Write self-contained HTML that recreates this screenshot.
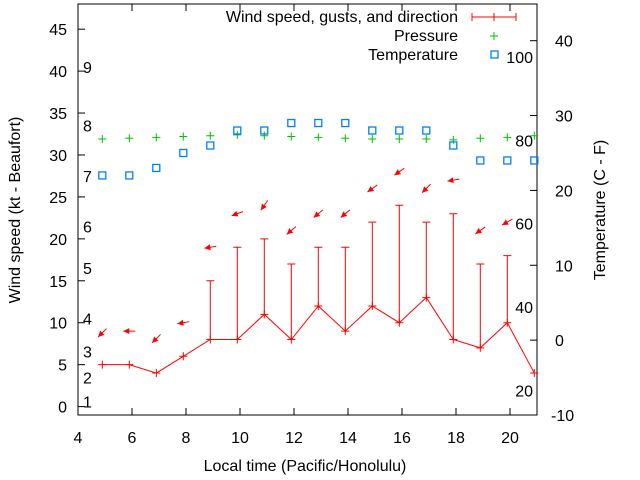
<!DOCTYPE html>
<html><head><meta charset="utf-8"><style>
html,body{margin:0;padding:0;background:#fff;}
svg{display:block;font-family:"Liberation Sans",sans-serif;}
</style></head><body>
<svg id="chart" width="640" height="480" viewBox="0 0 640 480">
<g id="axes"></g>
<g id="marks"></g>
<g id="legend">
  <text x="458" y="22" text-anchor="end" font-size="16">Wind speed, gusts, and direction</text>
  <line x1="472" y1="17" x2="516" y2="17" stroke="#f00" stroke-width="1"/>
  <line x1="472" y1="13" x2="472" y2="21" stroke="#f00"/>
  <line x1="516" y1="13" x2="516" y2="21" stroke="#f00"/>
  <line x1="494" y1="13" x2="494" y2="21" stroke="#f00"/>
  <text x="458" y="41" text-anchor="end" font-size="16">Pressure</text>
  <path d="M490 36h8M494 32v8" stroke="#00c000"/>
  <text x="458" y="60" text-anchor="end" font-size="16">Temperature</text>
  <rect x="491" y="51" width="7" height="7" fill="none" stroke="#0080ff" stroke-width="1.3"/>
</g>
<text transform="translate(20,210) rotate(-90)" text-anchor="middle" font-size="16">Wind speed (kt - Beaufort)</text>
<text transform="translate(605,210) rotate(-90)" text-anchor="middle" font-size="16">Temperature (C - F)</text>
<text x="305" y="471" text-anchor="middle" font-size="16">Local time (Pacific/Honolulu)</text>
</svg>
<script>
const hours = [4.9,5.9,6.9,7.9,8.9,9.9,10.9,11.9,12.9,13.9,14.9,15.9,16.9,17.9,18.9,19.9,20.9];
const windSpeed = [5,5,4,6,8,8,11,8,12,9,12,10,13,8,7,10,4];
const gusts = [null,null,null,null,15,19,20,17,19,19,22,24,22,23,17,18,null];
const arrowLevel = [8.8,9,8.1,10,19,23,24,21,23,23,26,28,26,27,21,22,null];
const windDir = [225,180,225,190,190,200,235,220,220,220,215,215,225,190,215,210,null];
const pressure = [31.9,32.0,32.1,32.2,32.3,32.4,32.3,32.2,32.1,32.0,31.9,31.9,31.9,31.8,32.0,32.1,32.3];
const tempC = [22,22,23,25,26,28,28,29,29,29,28,28,28,26,24,24,24];
const xTicks = [4,6,8,10,12,14,16,18,20];
const yTicks = [0,5,10,15,20,25,30,35,40,45];
const y2Ticks = [-10,0,10,20,30,40];
const beaufortLabels = ["1","2","3","4","5","6","7","8","9"];
const beaufortLevels = [0.6,3.5,6.6,10.5,16.5,21.5,27.5,33.5,40.5];
const fahrLabels = ["20","40","60","80","100"];
const fahrLevels = [-6.7,4.4,15.6,26.7,37.8];

const L=78,R=537,T=4,B=415;
const X=v=>L+(v-4)/(21-4)*(R-L);
const Y=v=>B-(v+1)/(48+1)*(B-T);
const Y2=v=>B-(v+10)/(44.9+10)*(B-T);
const NS="http://www.w3.org/2000/svg";
function mk(p,tag,at){const e=document.createElementNS(NS,tag);for(const k in at)e.setAttribute(k,at[k]);p.appendChild(e);return e;}
const ax=document.getElementById('axes'), mk_=document.getElementById('marks');

let e=mk(ax,'rect',{x:L,y:T,width:R-L,height:B-T,fill:'none',stroke:'#000','stroke-width':1});


xTicks.forEach(t=>{
  const x=X(t);
  let l=mk(ax,'path',{d:`M${x} ${B}v-7M${x} ${T}v7`,stroke:'#000'});
  
  
  let tx=mk(ax,'text',{x:x,y:443,'text-anchor':'middle','font-size':16});
  tx.textContent=t;
  
  
});
yTicks.forEach(t=>{
  const y=Y(t);
  let l=mk(ax,'path',{d:`M${L} ${y}h7`,stroke:'#000'});
  
  
  let tx=mk(ax,'text',{x:L-11,y:y+6,'text-anchor':'end','font-size':16});
  tx.textContent=t;
  
  
});
y2Ticks.forEach(t=>{
  const y=Y2(t);
  let l=mk(ax,'path',{d:`M${R} ${y}h-7`,stroke:'#000'});
  
  
  let tx=mk(ax,'text',{x:t<0?551:555,y:y+6,'font-size':16});
  tx.textContent=t;
  
  
});
beaufortLabels.forEach((s,i)=>{
  let tx=mk(ax,'text',{x:83,y:Y(beaufortLevels[i])+6,'font-size':16});
  tx.textContent=s;
  
  
});
fahrLabels.forEach((s,i)=>{
  let tx=mk(ax,'text',{x:533,y:Y2(fahrLevels[i])+6,'text-anchor':'end','font-size':16});
  tx.textContent=s;
  
  
});

let pl=mk(mk_,'polyline',{points:hours.map((h,i)=>`${X(h)},${Y(windSpeed[i])}`).join(' '),fill:'none',stroke:'#f00'});


hours.forEach((h,i)=>{
  const x=X(h),y=Y(windSpeed[i]);
  let p=mk(mk_,'path',{d:`M${x-4} ${y}h8M${x} ${y-4}v8`,stroke:'#f00'});
  
  
  if(gusts[i]!=null){
    const g=Y(gusts[i]);
    let b=mk(mk_,'path',{d:`M${x} ${y}V${g}M${x-4} ${g}h8`,stroke:'#f00'});
    
    
  }
  if(arrowLevel[i]!=null){
    const a=windDir[i]*Math.PI/180, cx=x, cy=Y(arrowLevel[i]);
    const dx=Math.cos(a), dy=-Math.sin(a);
    const hx=cx+dx*6, hy=cy+dy*6, tx=cx-dx*6, ty=cy-dy*6;
    const px=-dy, py=dx;
    let ar=mk(mk_,'path',{d:`M${tx} ${ty}L${hx} ${hy}`,stroke:'#f00'});
    
    
    let hd=mk(mk_,'path',{d:`M${hx} ${hy}L${hx-dx*6+px*3} ${hy-dy*6+py*3}L${hx-dx*6-px*3} ${hy-dy*6-py*3}Z`,fill:'#f00'});
    
    
  }
  const py_=Y(pressure[i]);
  let pp=mk(mk_,'path',{d:`M${x-4} ${py_}h8M${x} ${py_-4}v8`,stroke:'#00c000'});
  
  
  const ty_=Y2(tempC[i]);
  let sq=mk(mk_,'rect',{x:x-3.5,y:ty_-3.5,width:7,height:7,fill:'none',stroke:'#0080ff','stroke-width':1.3});
  
  
});
</script>
</body></html>
